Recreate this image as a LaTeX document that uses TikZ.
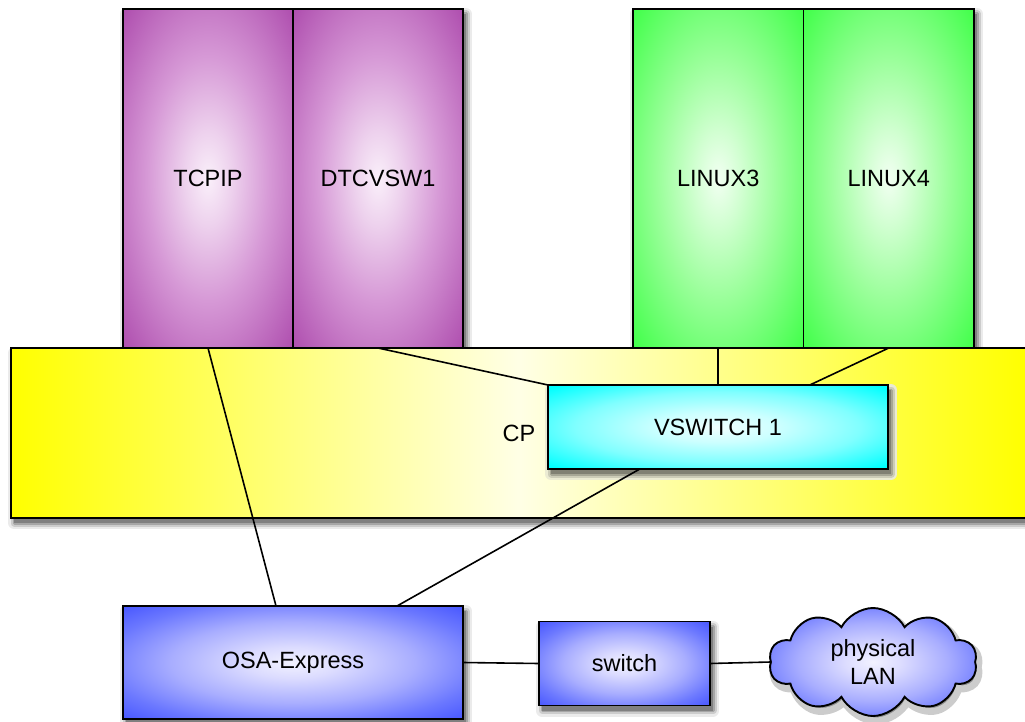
\documentclass[tikz,border=0pt]{standalone}
\usepackage{fontspec}
\setmainfont{Liberation Sans}
\usetikzlibrary{shapes.symbols,calc}
\pgfdeclarelayer{shadowbg}
\pgfdeclarelayer{cpl}
\pgfdeclarelayer{shadowmid}
\pgfsetlayers{shadowbg,cpl,shadowmid,main}
\pgfdeclareradialshading{purpsh}{\pgfpoint{0bp}{0bp}}{rgb(0bp)=(0.98,0.94,0.98); rgb(7bp)=(0.93,0.82,0.93); rgb(18bp)=(0.84,0.6,0.84); rgb(28bp)=(0.75,0.43,0.75); rgb(38bp)=(0.66,0.26,0.66); rgb(50bp)=(0.6,0.14,0.6); rgb(90bp)=(0.6,0.14,0.6)}
\pgfdeclareradialshading{greensh}{\pgfpoint{0bp}{0bp}}{rgb(0bp)=(0.95,1,0.95); rgb(7bp)=(0.82,1,0.82); rgb(18bp)=(0.6,1,0.6); rgb(28bp)=(0.4,1,0.42); rgb(38bp)=(0.2,1,0.24); rgb(50bp)=(0,1,0.1); rgb(90bp)=(0,1,0.1)}
\pgfdeclareradialshading{bluesh}{\pgfpoint{0bp}{0bp}}{rgb(0bp)=(0.95,0.95,1); rgb(7bp)=(0.86,0.86,1); rgb(18bp)=(0.66,0.68,1); rgb(28bp)=(0.42,0.47,1); rgb(36bp)=(0.27,0.33,1); rgb(50bp)=(0.16,0.24,1); rgb(90bp)=(0.16,0.24,1)}
\pgfdeclareradialshading{cyansh}{\pgfpoint{0bp}{0bp}}{rgb(0bp)=(0.94,1,1); rgb(9bp)=(0.8,1,1); rgb(21bp)=(0.5,1,1); rgb(34bp)=(0,1,1); rgb(90bp)=(0,1,1)}
\definecolor{cpyellow}{rgb}{1,1,0}
\definecolor{cppale}{rgb}{1,1,0.9}
\newcommand\myshadowrect[3]{%
  \draw[#3!92!black, line width=12pt, line join=round] #1 rectangle #2;
  \draw[#3!80!black, line width=7pt, line join=round] #1 rectangle #2;
  \draw[#3!65!black, line width=3pt, line join=round] #1 rectangle #2;
  \fill[#3!50!black] #1 rectangle #2;}
\begin{document}
\begin{tikzpicture}[x=1pt,y=-1pt,
  plainbox/.style={draw=black, line width=1.9pt, inner sep=0pt, outer sep=0pt,
    font=\fontsize{23.5}{28}\selectfont},
  purpbox/.style={plainbox, shading=purpsh, minimum width=170pt, minimum height=339pt},
  greenbox/.style={plainbox, shading=greensh, minimum width=170.5pt, minimum height=339pt},
  bluebox/.style={plainbox, shading=bluesh},
  cloudshape/.style={cloud, cloud puffs=10, cloud puff arc=125, aspect=2,
    minimum width=208pt, minimum height=108pt, align=center, inner sep=0pt, outer sep=0pt,
    font=\fontsize{23.5}{28}\selectfont},
  conn/.style={line width=1.6pt, draw=black}]
\useasboundingbox (0,0) rectangle (1025,722);
% top hosts
\node[purpbox] (tcpip) at (208,178.5) {TCPIP};
\node[purpbox] (dtc) at (378,178.5) {DTCVSW1};
\node[greenbox] (lin3) at (718.25,178.5) {LINUX3};
\node[greenbox] (lin4) at (888.75,178.5) {LINUX4};
% CP
\begin{pgfonlayer}{cpl}
\node[plainbox, left color=cpyellow, right color=cpyellow, middle color=cppale,
  minimum width=1016pt, minimum height=170pt] (cp) at (519,433) {CP};
\end{pgfonlayer}
% VSWITCH
\node[plainbox, shading=cyansh, minimum width=340pt, minimum height=84pt] (vsw) at (718,427) {VSWITCH 1};
% bottom
\node[bluebox, minimum width=340pt, minimum height=113pt] (osa) at (293,662.5) {OSA-Express};
\node[bluebox, minimum width=171pt, minimum height=84pt] (sw) at (624.5,663.5) {switch};
\node[cloudshape, plainbox, shading=bluesh] (lan) at (873,662) {physical\\LAN};
% shadows
\begin{pgfonlayer}{shadowbg}
\myshadowrect{([shift={(3,5)}]tcpip.north west)}{([shift={(3,5)}]dtc.south east)}{white}
\myshadowrect{([shift={(3,5)}]lin3.north west)}{([shift={(3,5)}]lin4.south east)}{white}
\myshadowrect{([shift={(3,5)}]cp.north west)}{([shift={(3,5)}]cp.south east)}{white}
\myshadowrect{([shift={(3,5)}]osa.north west)}{([shift={(3,5)}]osa.south east)}{white}
\myshadowrect{([shift={(3,5)}]sw.north west)}{([shift={(3,5)}]sw.south east)}{white}
\node[cloudshape, fill=white!55!black, draw=white!80!black, line width=7pt] (lanshadow)
  at ($(lan.center)+(3,5)$) {\phantom{physical}\\\phantom{LAN}};
\end{pgfonlayer}
\begin{pgfonlayer}{shadowmid}
\myshadowrect{([shift={(3,5)}]vsw.north west)}{([shift={(3,5)}]vsw.south east)}{cppale}
\end{pgfonlayer}
% connectors
\draw[conn] (tcpip.south) -- ($(osa.north west)!0.45!(osa.north east)$);
\draw[conn] (dtc.south) -- (vsw.north west);
\draw[conn] (lin3.south) -- (lin3.south |- vsw.north);
\draw[conn] (lin4.south) -- ($(vsw.north west)!0.77!(vsw.north east)$);
\draw[conn] ($(vsw.south west)!0.27!(vsw.south east)$) -- ($(osa.north west)!0.806!(osa.north east)$);
\draw[conn] (osa.east) -- (sw.west);
\draw[conn] (sw.east) -- (lan.west);
\end{tikzpicture}
\end{document}
